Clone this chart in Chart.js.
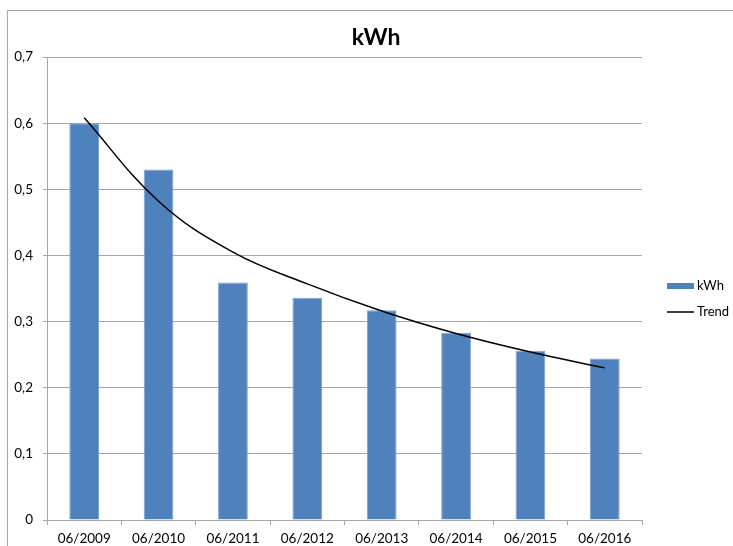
<!DOCTYPE html>
<html>
<head>
<meta charset="utf-8">
<script src="https://cdn.jsdelivr.net/npm/chart.js@4/dist/chart.umd.min.js"></script>
<style>
html,body{margin:0;padding:0;background:#fff;}
#wrap{width:733px;height:546px;position:relative;}
</style>
</head>
<body>
<div id="wrap"><canvas id="c" width="733" height="546"></canvas></div>
<script>
const categories = ["06/2009","06/2010","06/2011","06/2012","06/2013","06/2014","06/2015","06/2016"];
const kwhValues = [0.600, 0.530, 0.359, 0.336, 0.317, 0.283, 0.256, 0.244];
const trendValues = [0.608, 0.482, 0.405, 0.357, 0.316, 0.282, 0.254, 0.230];
const yTicks = [0, 0.1, 0.2, 0.3, 0.4, 0.5, 0.6, 0.7];
const titleText = "kWh";

const FONT = "Lato, 'Open Sans', sans-serif";

const framePlugin = {
  id: 'frame',
  beforeDraw(chart) {
    const ctx = chart.ctx;
    ctx.save();
    ctx.fillStyle = '#fff';
    ctx.fillRect(0, 0, chart.width, chart.height);
    ctx.strokeStyle = '#a6a6a6';
    ctx.lineWidth = 1;
    ctx.beginPath();
    ctx.moveTo(7.5, chart.height);
    ctx.lineTo(7.5, 10.5);
    ctx.lineTo(chart.width, 10.5);
    ctx.stroke();
    ctx.restore();
  },
  afterDraw(chart) {
    const ctx = chart.ctx;
    ctx.save();
    // title
    ctx.fillStyle = '#000';
    ctx.font = "bold 23px " + FONT;
    ctx.textAlign = 'center';
    ctx.textBaseline = 'middle';
    ctx.fillText(titleText, 376, 38);
    // legend
    const ds = chart.data.datasets;
    const barDs = ds.find(d => d.type === 'bar');
    const lineDs = ds.find(d => d.type === 'line');
    ctx.font = "13px " + FONT;
    ctx.textAlign = 'left';
    ctx.fillStyle = barDs.backgroundColor;
    ctx.fillRect(667, 283, 27, 6);
    ctx.fillStyle = '#000';
    ctx.fillText(barDs.label, 697, 286);
    ctx.strokeStyle = lineDs.borderColor;
    ctx.lineWidth = 1.5;
    ctx.beginPath();
    ctx.moveTo(667, 312);
    ctx.lineTo(694, 312);
    ctx.stroke();
    ctx.fillText(lineDs.label, 697, 312);
    ctx.restore();
  }
};

new Chart(document.getElementById('c'), {
  type: 'bar',
  data: {
    labels: categories,
    datasets: [
      {
        type: 'line',
        label: 'Trend',
        data: trendValues,
        borderColor: '#000',
        borderWidth: 1.5,
        pointRadius: 0,
        fill: false,
        tension: 0.4,
        order: 0
      },
      {
        type: 'bar',
        label: 'kWh',
        data: kwhValues,
        backgroundColor: '#4f81bd',
        borderColor: '#7aa0d2',
        borderWidth: 1,
        barPercentage: 0.8,
        categoryPercentage: 0.5,
        order: 1
      }
    ]
  },
  options: {
    responsive: false,
    animation: false,
    devicePixelRatio: 1,
    layout: { padding: { left: 0, right: 91, top: 57, bottom: 0 } },
    plugins: {
      legend: { display: false },
      title: { display: false },
      tooltip: { enabled: false }
    },
    scales: {
      x: {
        offset: true,
        grid: {
          offset: true,
          drawOnChartArea: false,
          drawTicks: true,
          tickLength: 5,
          color: '#a6a6a6'
        },
        border: { color: '#a6a6a6' },
        ticks: {
          color: '#000',
          font: { family: FONT, size: 13.5 },
          padding: 6,
          maxRotation: 0,
          autoSkip: false
        },
        afterFit(scale) { scale.height = 26; }
      },
      y: {
        min: 0,
        max: 0.7,
        afterBuildTicks(scale) { scale.ticks = yTicks.map(v => ({ value: v })); },
        grid: {
          color: '#a6a6a6',
          tickLength: 4,
          drawTicks: true
        },
        border: { color: '#a6a6a6' },
        ticks: {
          color: '#000',
          font: { family: FONT, size: 13.5 },
          padding: 10,
          callback: v => v === 0 ? '0' : v.toFixed(1).replace('.', ',')
        },
        afterFit(scale) { scale.width = 47; }
      }
    }
  },
  plugins: [framePlugin]
});
</script>
</body>
</html>
